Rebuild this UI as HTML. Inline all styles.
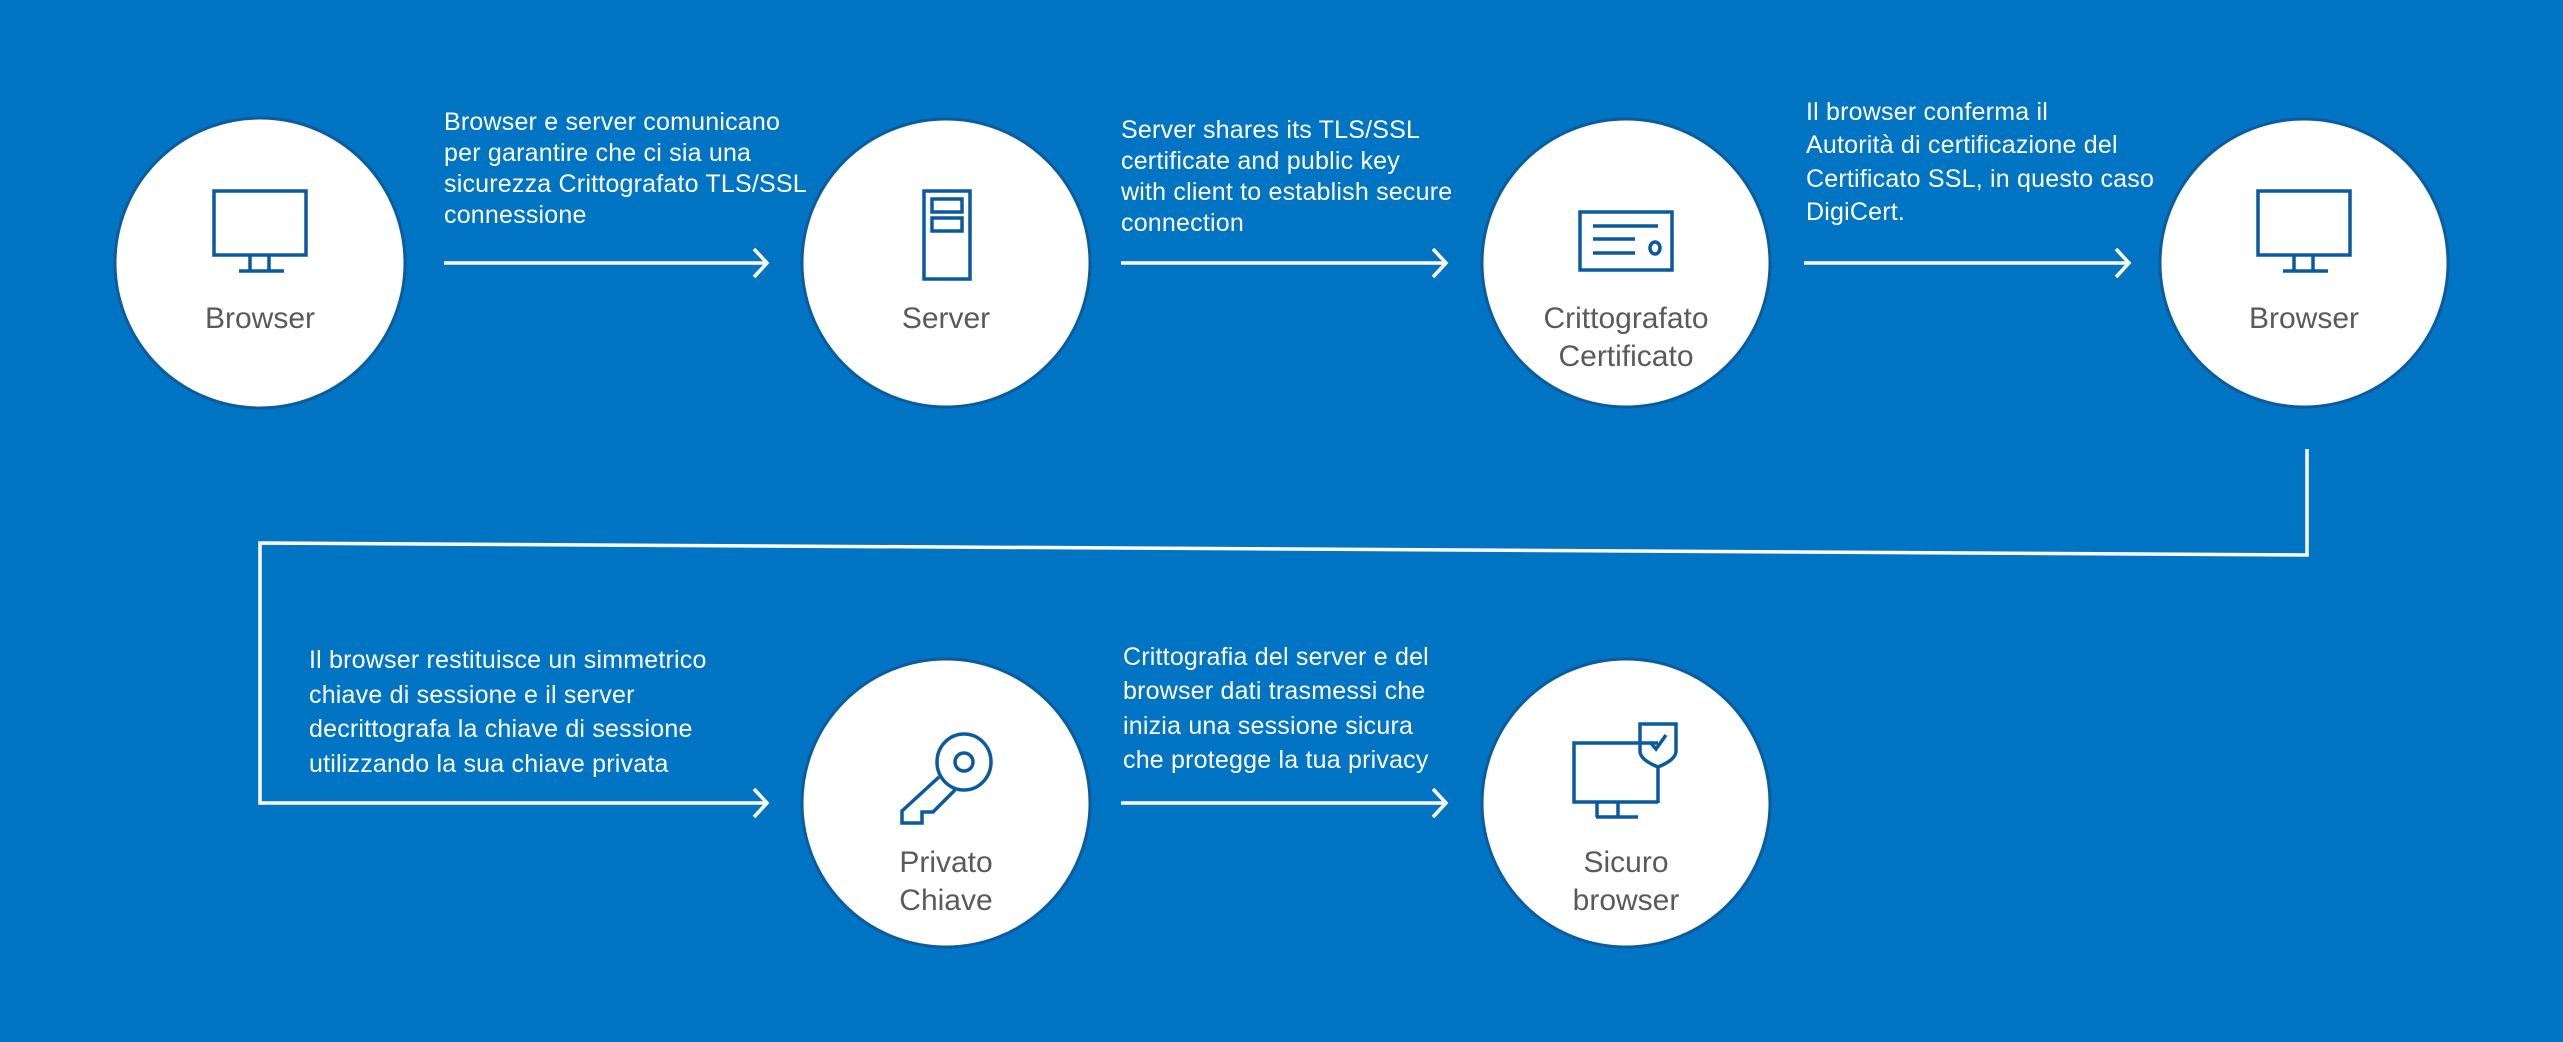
<!DOCTYPE html>
<html><head><meta charset="utf-8"><style>
html,body{margin:0;padding:0;background:#0274c4;}
svg{display:block}
.t{font-family:"Liberation Sans",sans-serif;font-size:25px;fill:#fff;letter-spacing:0.2px;}
.l{font-family:"Liberation Sans",sans-serif;font-size:30px;fill:#5a5a5a;text-anchor:middle;}
.ic{fill:none;stroke:#0b5aa0;stroke-width:3.5;}
.ar{fill:none;stroke:#fff;stroke-width:3.5;}
</style></head><body>
<svg width="2563" height="1042" viewBox="0 0 2563 1042" xmlns="http://www.w3.org/2000/svg">
<rect width="2563" height="1042" fill="#0274c4"/>
<g fill="#fff" stroke="#0a5c9e" stroke-width="3">
<circle cx="260" cy="263" r="145"/>
<circle cx="946" cy="263" r="144"/>
<circle cx="1626" cy="263" r="144"/>
<circle cx="2304" cy="263" r="144"/>
<circle cx="946" cy="803" r="144"/>
<circle cx="1626" cy="803" r="144"/>
</g>
<g class="ar">
<line x1="444" y1="263" x2="766" y2="263"/><polyline points="754,249 767,263 754,277"/>
<line x1="1121" y1="263" x2="1445" y2="263"/><polyline points="1433,249 1446,263 1433,277"/>
<line x1="1804" y1="263" x2="2128" y2="263"/><polyline points="2116,249 2129,263 2116,277"/>
<polyline points="2307,449 2307,555 260,543 260,803 766,803"/><polyline points="754,789 767,803 754,817"/>
<line x1="1121" y1="803" x2="1445" y2="803"/><polyline points="1433,789 1446,803 1433,817"/>
</g>
<text class="t" x="444" y="130">Browser e server comunicano</text>
<text class="t" x="444" y="161">per garantire che ci sia una</text>
<text class="t" x="444" y="192">sicurezza Crittografato TLS/SSL</text>
<text class="t" x="444" y="223">connessione</text>
<text class="t" x="1121" y="138">Server shares its TLS/SSL</text>
<text class="t" x="1121" y="169">certificate and public key</text>
<text class="t" x="1121" y="200">with client to establish secure</text>
<text class="t" x="1121" y="231">connection</text>
<text class="t" x="1806" y="120">Il browser conferma il</text>
<text class="t" x="1806" y="153">Autorità di certificazione del</text>
<text class="t" x="1806" y="187">Certificato SSL, in questo caso</text>
<text class="t" x="1806" y="220">DigiCert.</text>
<text class="t" x="309" y="668">Il browser restituisce un simmetrico</text>
<text class="t" x="309" y="703">chiave di sessione e il server</text>
<text class="t" x="309" y="737">decrittografa la chiave di sessione</text>
<text class="t" x="309" y="772">utilizzando la sua chiave privata</text>
<text class="t" x="1123" y="665">Crittografia del server e del</text>
<text class="t" x="1123" y="699">browser dati trasmessi che</text>
<text class="t" x="1123" y="734">inizia una sessione sicura</text>
<text class="t" x="1123" y="768">che protegge la tua privacy</text>
<text class="l" x="260" y="328">Browser</text>
<text class="l" x="946" y="328">Server</text>
<text class="l" x="1626" y="328">Crittografato</text>
<text class="l" x="1626" y="366">Certificato</text>
<text class="l" x="2304" y="328">Browser</text>
<text class="l" x="946" y="872">Privato</text>
<text class="l" x="946" y="910">Chiave</text>
<text class="l" x="1626" y="872">Sicuro</text>
<text class="l" x="1626" y="910">browser</text>
<g class="ic">
<rect x="214" y="191" width="92" height="64"/><path d="M250 256v14M269 256v14M239 271h45"/>
<rect x="2258" y="191" width="92" height="64"/><path d="M2294 256v14M2313 256v14M2283 271h45"/>
<rect x="924" y="191" width="46" height="88"/><rect x="932" y="199" width="30" height="13"/><rect x="932" y="218" width="30" height="13"/>
<rect x="1580" y="212" width="92" height="58"/><path d="M1593 226h65M1593 239h42M1593 253h42"/><ellipse cx="1655" cy="248" rx="5" ry="6"/>
<ellipse cx="964" cy="762" rx="27" ry="28"/><circle cx="964" cy="762" r="9"/>
<path d="M939 777L902 811v12h20v-11h11l22-22"/>
<path d="M1658 743h-84v59h84M1597 803v14M1618 803v14M1596 817h42"/>
<path d="M1640 724h36v27c0 7-8 12-18 16c-10-4-18-9-18-16z"/><path d="M1650 742l6 7l10-14"/>
<path d="M1658 767v36"/>
</g>
</svg>
</body></html>
